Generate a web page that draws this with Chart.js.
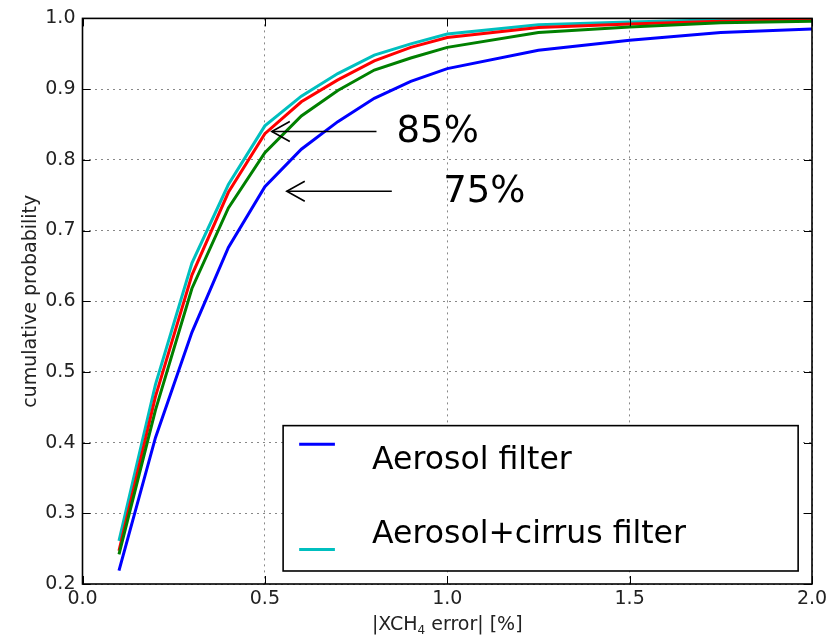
<!DOCTYPE html>
<html><head><meta charset="utf-8">
<script src="https://cdn.jsdelivr.net/npm/chart.js@4"></script>
<style>html,body{margin:0;padding:0;background:#fff}#wrap{width:838px;height:641px;position:relative}</style>
</head><body><div id="wrap"><canvas id="c"></canvas></div>
<script>
// ---- data ----
const xValues = [0.1, 0.2, 0.3, 0.4, 0.5, 0.6, 0.7, 0.8, 0.9, 1.0, 1.25, 1.5, 1.75, 2.0];
const aerosolFilter = [0.219, 0.407, 0.556, 0.676, 0.762, 0.815, 0.854, 0.887, 0.911, 0.929, 0.955, 0.969, 0.980, 0.985];
const greenSeries   = [0.242, 0.446, 0.618, 0.732, 0.810, 0.862, 0.898, 0.927, 0.944, 0.959, 0.980, 0.988, 0.994, 0.996];
const redSeries     = [0.247, 0.465, 0.637, 0.754, 0.837, 0.882, 0.913, 0.940, 0.959, 0.973, 0.987, 0.992, 0.996, 0.998];
const cirrusFilter  = [0.261, 0.482, 0.654, 0.765, 0.848, 0.890, 0.922, 0.948, 0.964, 0.978, 0.991, 0.995, 0.998, 0.999];
const seriesLabels = ['Aerosol filter', '', '', 'Aerosol+cirrus filter'];
const seriesColors = ['#0000ff', '#008000', '#ff0000', '#00bfbf'];
const xTickValues = [0, 0.5, 1.0, 1.5, 2.0];
const yTickValues = [0.2, 0.3, 0.4, 0.5, 0.6, 0.7, 0.8, 0.9, 1.0];
const arrowLabels = ['85%', '75%'];
const arrowLevel  = [0.840, 0.7555];
const arrowTipX   = [0.519, 0.560];
const arrowTailX  = [0.806, 0.848];
const arrowTextX  = [0.861, 0.989];
const legendItems = [0, 3];

const FONT = "'DejaVu Sans', sans-serif";
const seriesValues = [aerosolFilter, greenSeries, redSeries, cirrusFilter];
const datasets = seriesValues.map((vals, i) => ({
  label: seriesLabels[i],
  data: xValues.map((x, j) => ({x: x, y: vals[j]})),
  borderColor: seriesColors[i],
  backgroundColor: seriesColors[i],
  borderWidth: 3,
  pointRadius: 0,
  tension: 0,
  fill: false
}));

const decor = {
  id: 'decor',
  beforeDraw(chart) {
    const c = chart.ctx;
    c.save(); c.fillStyle = '#fff'; c.fillRect(0, 0, chart.width, chart.height); c.restore();
  },
  afterDatasetsDraw(chart) {
    const c = chart.ctx, a = chart.chartArea;
    const xs = chart.scales.x, ys = chart.scales.y;
    c.save();
    // inward ticks
    c.strokeStyle = '#000'; c.lineWidth = 1;
    xTickValues.forEach(v => {
      const px = Math.round(xs.getPixelForValue(v)) + 0.5;
      c.beginPath(); c.moveTo(px, a.bottom); c.lineTo(px, a.bottom - 8); c.stroke();
      c.beginPath(); c.moveTo(px, a.top); c.lineTo(px, a.top + 8); c.stroke();
    });
    yTickValues.forEach(v => {
      const py = Math.round(ys.getPixelForValue(v)) + 0.5;
      c.beginPath(); c.moveTo(a.left, py); c.lineTo(a.left + 8, py); c.stroke();
      c.beginPath(); c.moveTo(a.right, py); c.lineTo(a.right - 8, py); c.stroke();
    });
    // frame
    c.lineWidth = 1.6;
    c.strokeRect(a.left, a.top, a.right - a.left, a.bottom - a.top);

    // legend box
    const W = a.right - a.left, H = a.bottom - a.top;
    const lx0 = a.left + 0.275 * W, lx1 = a.left + 0.981 * W;
    const ly0 = a.top + 0.720 * H, ly1 = a.top + 0.977 * H;
    c.fillStyle = '#fff';
    c.fillRect(lx0, ly0, lx1 - lx0, ly1 - ly0);
    c.strokeStyle = '#000'; c.lineWidth = 1.6;
    c.strokeRect(lx0, ly0, lx1 - lx0, ly1 - ly0);
    const rowSample = [0.753, 0.939];
    const rowText = [0.782, 0.913];
    legendItems.forEach((idx, r) => {
      const sy = a.top + rowSample[r] * H;
      c.strokeStyle = seriesColors[idx]; c.lineWidth = 3;
      c.beginPath(); c.moveTo(a.left + 0.297 * W, sy); c.lineTo(a.left + 0.346 * W, sy); c.stroke();
      c.fillStyle = '#000'; c.font = '31.5px ' + FONT;
      c.textAlign = 'left'; c.textBaseline = 'middle';
      c.fillText(seriesLabels[idx], a.left + 0.397 * W, a.top + rowText[r] * H);
    });

    // arrows + labels
    c.strokeStyle = '#000'; c.fillStyle = '#000'; c.lineWidth = 1.6;
    arrowLabels.forEach((t, i) => {
      const y = ys.getPixelForValue(arrowLevel[i]);
      const tip = xs.getPixelForValue(arrowTipX[i]);
      const tail = xs.getPixelForValue(arrowTailX[i]);
      c.beginPath(); c.moveTo(tail, y); c.lineTo(tip, y); c.stroke();
      c.beginPath(); c.moveTo(tip + 18, y - 10); c.lineTo(tip, y); c.lineTo(tip + 18, y + 10); c.stroke();
      c.font = '37px ' + FONT; c.textAlign = 'left'; c.textBaseline = 'middle';
      c.fillText(t, xs.getPixelForValue(arrowTextX[i]), y + 1);
    });

    // axis titles
    c.fillStyle = '#222';
    c.save();
    c.translate(31, (a.top + a.bottom) / 2);
    c.rotate(-Math.PI / 2);
    c.font = '19px ' + FONT; c.textAlign = 'center'; c.textBaseline = 'middle';
    c.fillText('cumulative probability', 0, 0);
    c.restore();
    // x title with subscript
    const p1 = '|XCH', sub = '4', p2 = ' error| [%]';
    c.font = '19px ' + FONT;
    const w1 = c.measureText(p1).width, w2 = c.measureText(p2).width;
    c.font = '12px ' + FONT;
    const ws = c.measureText(sub).width;
    const tot = w1 + ws + w2;
    let x0 = (a.left + a.right) / 2 - tot / 2;
    const ty = 625;
    c.textAlign = 'left'; c.textBaseline = 'middle';
    c.font = '19px ' + FONT; c.fillText(p1, x0, ty);
    c.font = '12px ' + FONT; c.fillText(sub, x0 + w1, ty + 6);
    c.font = '19px ' + FONT; c.fillText(p2, x0 + w1 + ws, ty);
    c.restore();
  }
};

new Chart(document.getElementById('c'), {
  type: 'line',
  data: { datasets: datasets },
  options: {
    responsive: true,
    maintainAspectRatio: false,
    animation: false,
    layout: { padding: { top: 18, right: 26, left: 0, bottom: 0 } },
    plugins: { legend: { display: false }, tooltip: { enabled: false } },
    scales: {
      x: {
        type: 'linear', min: 0, max: 2,
        afterFit(s) { s.height = 57; },
        afterBuildTicks(s) { s.ticks = xTickValues.map(v => ({value: v})); },
        ticks: { callback: v => Number(v).toFixed(1), font: { family: FONT, size: 19 }, color: '#222', padding: 4, maxRotation: 0 },
        grid: { color: '#888', lineWidth: 1, drawTicks: false },
        border: { display: false, dash: [2, 4] }
      },
      y: {
        type: 'linear', min: 0.2, max: 1.0,
        afterFit(s) { s.width = 82.5; },
        afterBuildTicks(s) { s.ticks = yTickValues.map(v => ({value: v})); },
        ticks: { callback: v => Number(v).toFixed(1), font: { family: FONT, size: 19 }, color: '#222', padding: 7 },
        grid: { color: '#888', lineWidth: 1, drawTicks: false },
        border: { display: false, dash: [2, 4] }
      }
    }
  },
  plugins: [decor]
});
</script>
</body></html>
